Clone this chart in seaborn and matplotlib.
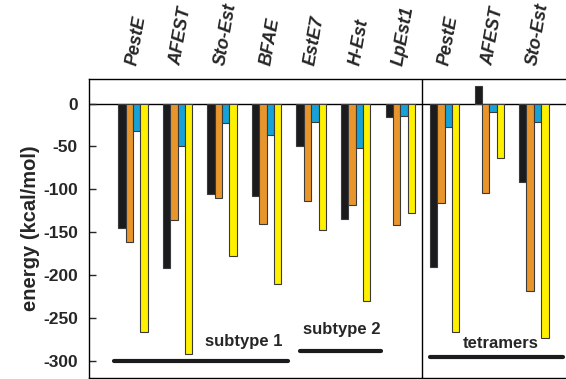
import matplotlib
matplotlib.use("Agg")
import matplotlib.pyplot as plt
import seaborn as sns
import pandas as pd

enzymes = ["PestE", "AFEST", "Sto-Est", "BFAE", "EstE7", "H-Est", "LpEst1",
           "PestE", "AFEST", "Sto-Est"]
series_names = ["s1", "s2", "s3", "s4"]
black_vals = [-145, -192, -106, -108, -50, -135, -16, -191, 20, -92]
orange_vals = [-162, -136, -110, -140, -114, -118, -142, -116, -104, -218]
blue_vals = [-32, -50, -23, -37, -22, -52, -14, -27, -10, -22]
yellow_vals = [-266, -292, -178, -210, -147, -230, -128, -266, -63, -273]
colors = ["#1b1a1c", "#e8952b", "#16a2d8", "#fff000"]

groups = [
    ("subtype 1", -0.42, 3.49, -300, 2.49, -277),
    ("subtype 2", 3.74, 5.56, -288, 4.69, -264),
    ("tetramers", 6.67, 9.65, -295.5, 8.26, -280),
]

keys = [f"{e}_{i}" for i, e in enumerate(enzymes)]
rows = []
for i, k in enumerate(keys):
    for s, vals in zip(series_names, [black_vals, orange_vals, blue_vals, yellow_vals]):
        rows.append({"key": k, "series": s, "value": vals[i]})
df = pd.DataFrame(rows)

sns.set_style("white")
plt.rcParams["font.family"] = ["Liberation Sans", "DejaVu Sans"]

fig = plt.figure(figsize=(5.66, 3.79), dpi=100)
ax = fig.add_axes([89 / 566, 1 - 378 / 379, 1 - 89 / 566 + 0.01, (378 - 79) / 379])

sns.barplot(data=df, x="key", y="value", hue="series", order=keys,
            hue_order=series_names, palette=colors, width=0.66, saturation=1,
            edgecolor="#3a3a3a", linewidth=0.8, legend=False, ax=ax)

ax.set_xlim(-0.99, 9.85)
ax.set_ylim(-320, 28.6)
ax.axhline(0, color="black", lw=1.0, zorder=0.5)
ax.axvline(6.5, color="black", lw=1.0)

ax.set_xticks([])
ax.set_xlabel("")
ax.set_yticks([0, -50, -100, -150, -200, -250, -300])
ax.set_yticklabels(["0", "-50", "-100", "-150", "-200", "-250", "-300"],
                   fontweight="bold", fontsize=12.5)
ax.tick_params(axis="y", direction="in", length=5, width=1, pad=8, left=True)
ax.set_ylabel("energy (kcal/mol)", fontweight="bold", fontsize=14.5, labelpad=2)

for sp in ["left", "top", "bottom"]:
    ax.spines[sp].set_visible(True)
    ax.spines[sp].set_color("black")
    ax.spines[sp].set_linewidth(1.0)
ax.spines["right"].set_visible(False)

for i, e in enumerate(enzymes):
    ax.text(i + 0.08, 29 + 14, e, rotation=80, ha="center", va="bottom",
            fontsize=13, fontweight="bold", fontstyle="italic",
            transform=ax.transData, clip_on=False)

for name, x0, x1, yl, xt, yt in groups:
    ax.plot([x0, x1], [yl, yl], color="#1b1a1c", lw=3, solid_capstyle="round")
    ax.text(xt, yt, name, ha="center", va="center", fontsize=12, fontweight="bold")

fig.savefig("out.png", dpi=100)
